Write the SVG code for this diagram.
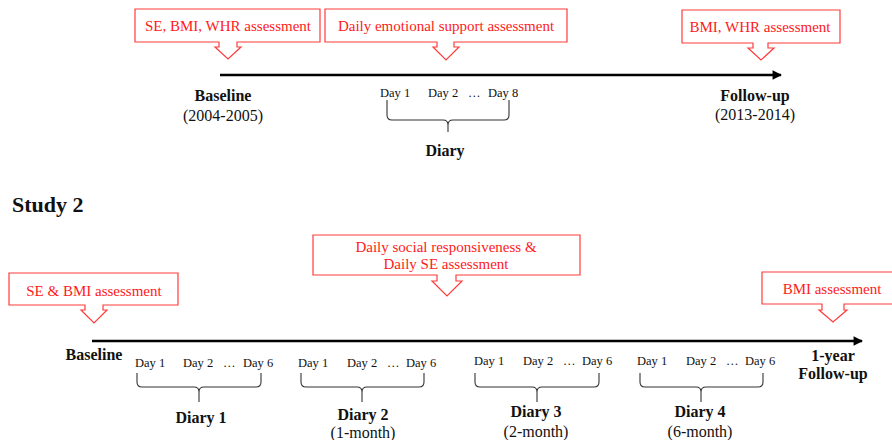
<svg xmlns="http://www.w3.org/2000/svg" width="892" height="440" viewBox="0 0 892 440">
<defs>
<style>
text{font-family:"Liberation Serif","Times New Roman",Tinos,"DejaVu Serif",serif}
.call{fill:#fff;stroke:#ff3b3b;stroke-width:1.2}
.rt{font-size:15px;fill:#ff1a1a;text-anchor:middle}
.day{font-size:12.5px;fill:#111}
.lb{font-size:16px;font-weight:bold;fill:#111;text-anchor:middle}
.sub{font-size:16px;fill:#111;text-anchor:middle}
.tl{stroke:#000;stroke-width:2.6;fill:none}
.br{stroke:#333;stroke-width:1.1;fill:none}
</style>
<marker id="ah" viewBox="0 0 10 10" refX="9" refY="5" markerWidth="4" markerHeight="3.6" orient="auto" markerUnits="strokeWidth">
<path d="M0,0 L10,5 L0,10 z" fill="#000"/>
</marker>
</defs>
<rect width="892" height="440" fill="#fff"/>

<g id="connectors">
<line class="tl" x1="220" y1="75" x2="781" y2="75" marker-end="url(#ah)"/>
<line class="tl" x1="92" y1="341" x2="862" y2="341" marker-end="url(#ah)"/>
<path class="br" d="M387,100 V115 Q387,120 392,120 H443 Q448,120 448,125 V132 M509,100 V115 Q509,120 504,120 H453 Q448,120 448,125"/>
<path class="br" d="M137,373 V382 Q137,387 142,387 H194 Q199,387 199,392 V402 M261,373 V382 Q261,387 256,387 H204 Q199,387 199,392"/>
<path class="br" d="M301,373 V382 Q301,387 306,387 H357 Q362,387 362,392 V402 M424,373 V382 Q424,387 419,387 H367 Q362,387 362,392"/>
<path class="br" d="M475,373 V382 Q475,387 480,387 H532 Q537,387 537,392 V402 M599,373 V382 Q599,387 594,387 H542 Q537,387 537,392"/>
<path class="br" d="M640,373 V382 Q640,387 645,387 H696 Q701,387 701,392 V402 M763,373 V382 Q763,387 758,387 H706 Q701,387 701,392"/>
</g>

<g id="call-se-bmi-whr">
<path class="call" d="M135,9 H320 V42 H237 V47 H241 L228,59 L215,47 H219 V42 H135 Z"/>
<text class="rt" x="228" y="31">SE, BMI, WHR assessment</text>
</g>
<g id="call-daily-emotional">
<path class="call" d="M325,9 H567 V42 H454 V47 H459 L446,60 L433,47 H437 V42 H325 Z"/>
<text class="rt" x="446" y="31">Daily emotional support assessment</text>
</g>
<g id="call-bmi-whr">
<path class="call" d="M682,10 H840 V43 H768 V48 H774 L761,60 L748,48 H753 V43 H682 Z"/>
<text class="rt" x="760" y="32">BMI, WHR assessment</text>
</g>

<g id="baseline1">
<text class="lb" x="223" y="101">Baseline</text>
<text class="sub" x="223" y="121">(2004-2005)</text>
</g>
<g id="followup1">
<text class="lb" x="755" y="101">Follow-up</text>
<text class="sub" x="755" y="120">(2013-2014)</text>
</g>
<g id="diary1-s1">
<text class="day" x="380" y="97">Day 1</text>
<text class="day" x="428" y="97">Day 2</text>
<text class="day" x="468" y="97">…</text>
<text class="day" x="488" y="97">Day 8</text>
<text class="lb" x="445" y="156">Diary</text>
</g>

<g id="study2-title">
<text x="12" y="212" font-size="22" font-weight="bold" fill="#111">Study 2</text>
</g>

<g id="call-se-bmi">
<path class="call" d="M9,273 H178 V305 H103 V310 H107 L94,323 L81,310 H85 V305 H9 Z"/>
<text class="rt" x="94" y="296">SE &amp; BMI assessment</text>
</g>
<g id="call-daily-social">
<path class="call" d="M313,235 H580 V275 H456 V281 H462 L447,296 L432,281 H437 V275 H313 Z"/>
<text class="rt" x="446" y="252">Daily social responsiveness  &amp;</text>
<text class="rt" x="446" y="269">Daily SE assessment</text>
</g>
<g id="call-bmi">
<path class="call" d="M762,272 H895 V304 H844 V310 H847 L833,322 L819,310 H822 V304 H762 Z"/>
<text class="rt" x="832" y="294">BMI assessment</text>
</g>

<g id="baseline2">
<text class="lb" x="94" y="360">Baseline</text>
</g>
<g id="followup2">
<text class="lb" x="833" y="361">1-year</text>
<text class="lb" x="833" y="379">Follow-up</text>
</g>

<g id="diary1">
<text class="day" x="135" y="367">Day 1</text>
<text class="day" x="183" y="367">Day 2</text>
<text class="day" x="223" y="367">…</text>
<text class="day" x="243" y="367">Day 6</text>
<text class="lb" x="201" y="423">Diary 1</text>
</g>
<g id="diary2">
<text class="day" x="298" y="367">Day 1</text>
<text class="day" x="347" y="367">Day 2</text>
<text class="day" x="387" y="367">…</text>
<text class="day" x="406" y="367">Day 6</text>
<text class="lb" x="363" y="420">Diary 2</text>
<text class="sub" x="363" y="438">(1-month)</text>
</g>
<g id="diary3">
<text class="day" x="474" y="365">Day 1</text>
<text class="day" x="523" y="365">Day 2</text>
<text class="day" x="563" y="365">…</text>
<text class="day" x="582" y="365">Day 6</text>
<text class="lb" x="536" y="417">Diary 3</text>
<text class="sub" x="536" y="437">(2-month)</text>
</g>
<g id="diary4">
<text class="day" x="637" y="365">Day 1</text>
<text class="day" x="686" y="365">Day 2</text>
<text class="day" x="726" y="365">…</text>
<text class="day" x="745" y="365">Day 6</text>
<text class="lb" x="700" y="417">Diary 4</text>
<text class="sub" x="700" y="437">(6-month)</text>
</g>
</svg>
